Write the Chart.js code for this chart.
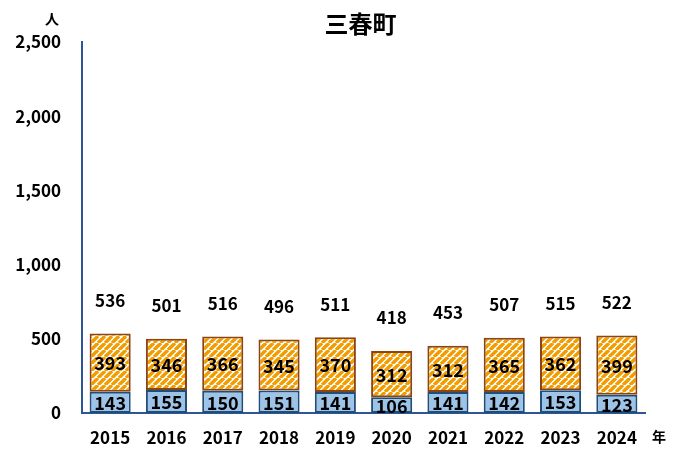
<!DOCTYPE html>
<html>
<head>
<meta charset="utf-8">
<script src="https://cdn.jsdelivr.net/npm/chart.js@4"></script>
<style>
  body { margin: 0; background: #fff; }
  #wrap { width: 677px; height: 449px; }
</style>
</head>
<body>
<div id="wrap"><canvas id="grafico"></canvas></div>
<script>
const years = ["2015", "2016", "2017", "2018", "2019", "2020", "2021", "2022", "2023", "2024"];
const lower = [143, 155, 150, 151, 141, 106, 141, 142, 153, 123];
const upper = [393, 346, 366, 345, 370, 312, 312, 365, 362, 399];
const totals = [536, 501, 516, 496, 511, 418, 453, 507, 515, 522];
const yTicks = [0, 500, 1000, 1500, 2000, 2500];

const FONT = "'Noto Sans CJK JP', 'Noto Sans', sans-serif";

function hatch() {
  const s = 7;
  const c = document.createElement("canvas");
  c.width = s; c.height = s;
  const g = c.getContext("2d");
  g.fillStyle = "#ffffff";
  g.fillRect(0, 0, s, s);
  g.strokeStyle = "#f29c00";
  g.lineWidth = 3.4;
  g.beginPath();
  for (const k of [-1, 0, 1]) {
    g.moveTo(k * s, s);
    g.lineTo(k * s + s, 0);
  }
  g.stroke();
  return g.createPattern(c, "repeat");
}

const etiquetas = {
  id: "etiquetas",
  afterDatasetsDraw(chart) {
    const ctx = chart.ctx;
    ctx.save();
    ctx.fillStyle = "#000";
    ctx.textAlign = "center";
    ctx.textBaseline = "middle";
    ctx.font = "bold 18px " + FONT;
    chart.data.datasets.forEach((ds, i) => {
      chart.getDatasetMeta(i).data.forEach((bar, j) => {
        ctx.fillText(ds.data[j], bar.x, (bar.y + bar.base) / 2 + 1);
      });
    });
    ctx.font = "bold 17px " + FONT;
    const top = chart.getDatasetMeta(1).data;
    top.forEach((bar, j) => {
      ctx.fillText(totals[j], bar.x, bar.y - 33);
    });
    // titulo y unidades
    const area = chart.chartArea;
    ctx.font = "bold 24px " + FONT;
    ctx.fillText("三春町", (area.left + area.right) / 2 - 3, 24);
    ctx.font = "bold 14px " + FONT;
    ctx.fillText("人", 52, 19);
    ctx.fillText("年", 659, 437);
    ctx.restore();
  }
};

new Chart(document.getElementById("grafico"), {
  type: "bar",
  data: {
    labels: years,
    datasets: [
      {
        data: lower,
        backgroundColor: "#9dc3e6",
        borderColor: "#1f4e79",
        borderWidth: 2,
        borderSkipped: false,
        categoryPercentage: 1,
        barPercentage: 0.73
      },
      {
        data: upper,
        backgroundColor: hatch(),
        borderColor: "#8b4513",
        borderWidth: 2,
        borderSkipped: false,
        categoryPercentage: 1,
        barPercentage: 0.73
      }
    ]
  },
  plugins: [etiquetas],
  options: {
    responsive: true,
    maintainAspectRatio: false,
    animation: false,
    layout: { padding: { top: 42, right: 32, left: 0, bottom: 0 } },
    plugins: {
      legend: { display: false },
      tooltip: { enabled: false }
    },
    scales: {
      x: {
        stacked: true,
        grid: { display: false, drawTicks: false },
        border: { color: "#2f5597", width: 2 },
        ticks: { color: "#000", padding: 14, font: { family: FONT, size: 17, weight: "bold" } },
        afterFit: s => { s.height = 36; }
      },
      y: {
        stacked: true,
        min: 0,
        max: 2500,
        grid: { display: false, drawTicks: false },
        border: { color: "#2f5597", width: 2 },
        afterBuildTicks: s => { s.ticks = yTicks.map(v => ({ value: v })); },
        ticks: {
          color: "#000",
          padding: 21,
          font: { family: FONT, size: 17, weight: "bold" },
          callback: v => v.toLocaleString("en-US")
        },
        afterFit: s => { s.width = 82; }
      }
    }
  }
});
</script>
</body>
</html>
